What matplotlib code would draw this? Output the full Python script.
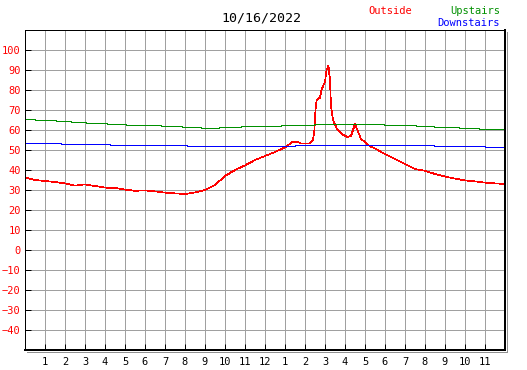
import matplotlib
matplotlib.use("Agg")
import matplotlib.pyplot as plt
from matplotlib.lines import Line2D

# hours since midnight and readings (deg F)
out_hours = [0, 0.5, 1.0, 1.5, 2.0, 2.5, 3.0, 3.5, 4.0, 4.5, 5.0, 5.5, 6.0, 6.5, 7.0, 7.5,
             8.0, 8.5, 9.0, 9.5, 10.0, 10.5, 11.0, 11.5, 12.0, 12.5, 13.0, 13.4, 13.65, 13.8,
             14.25, 14.4, 14.47, 14.52, 14.58, 14.75, 14.83, 15.0, 15.08, 15.17, 15.25, 15.3,
             15.4, 15.6, 15.85, 16.1, 16.3, 16.4, 16.5, 16.6, 16.8, 17.0, 17.25, 17.5, 17.9,
             18.5, 19.0, 19.5, 20.0, 20.5, 21.0, 21.5, 22.0, 22.5, 23.0, 23.5, 24.0]
outside = [36.2, 35.0, 34.5, 34.0, 33.3, 32.2, 32.8, 32.0, 31.2, 31.0, 30.2, 29.6, 29.8, 29.3,
           28.7, 28.3, 28.0, 28.8, 30.0, 32.5, 37.0, 40.0, 42.3, 45.0, 47.0, 49.0, 51.3, 54.2,
           54.0, 53.3, 53.3, 55.0, 60.0, 69.5, 75.0, 76.2, 80.3, 84.2, 90.0, 92.2, 85.0, 72.0,
           65.0, 60.5, 58.0, 56.5, 57.0, 60.0, 63.0, 60.5, 55.5, 54.0, 51.8, 50.8, 48.5, 45.5,
           43.0, 40.5, 39.6, 38.0, 36.7, 35.7, 34.8, 34.3, 33.7, 33.3, 33.0]

up_hours = [0, 0.5, 1.55, 2.3, 3.05, 4.1, 5.05, 6.8, 7.85, 8.8, 9.7, 10.8, 12.8, 14.45,
            17.95, 19.55, 20.45, 21.7, 22.7, 24]
upstairs = [65.3, 64.8, 64.3, 63.8, 63.3, 62.8, 62.3, 61.8, 61.3, 60.8, 61.3, 61.8, 62.3,
            62.8, 62.3, 61.8, 61.3, 60.8, 60.3, 60.3]

down_hours = [0, 1.8, 4.25, 8.1, 13.5, 20.45, 23.0, 24]
downstairs = [53.3, 52.8, 52.3, 51.8, 52.3, 51.8, 51.3, 51.3]

x_ticks = list(range(1, 24))
x_labels = ['1', '2', '3', '4', '5', '6', '7', '8', '9', '10', '11', '12',
            '1', '2', '3', '4', '5', '6', '7', '8', '9', '10', '11']
y_ticks = list(range(-40, 101, 10))

W, H = 527, 370
px = 0.72  # one pixel in points at 100 dpi
fig = plt.figure(figsize=(W / 100, H / 100), dpi=100)
ax = fig.add_axes([25 / W, (H - 350) / H, 480 / W, 320 / H])

ax.plot(out_hours, outside, color='red', lw=0.5, antialiased=False)
ax.plot(up_hours, upstairs, color='#009000', lw=px, drawstyle='steps-post', antialiased=False)
ax.plot(down_hours, downstairs, color='blue', lw=px, drawstyle='steps-post', antialiased=False)

ax.set_xlim(0, 24)
ax.set_ylim(-50, 110)
ax.set_xticks(x_ticks)
ax.set_xticklabels(x_labels)
ax.set_yticks(y_ticks)
ax.grid(True, color='#a0a0a0', lw=px)
ax.set_axisbelow(True)

mono = 'DejaVu Sans Mono'
ax.tick_params(axis='both', direction='in', length=4, width=px, color='black',
               labelsize=7.5, labelfontfamily=mono)
ax.tick_params(axis='x', pad=5)
ax.tick_params(axis='y', pad=3, labelcolor='red')

for s in ['top', 'left']:
    ax.spines[s].set_linewidth(px)
for s in ['bottom', 'right']:
    ax.spines[s].set_linewidth(2 * px)

# drop shadow on bottom and right
fig.add_artist(Line2D([27 / W, 507 / W], [(H - 352) / H] * 2, color='#909090', lw=px))
fig.add_artist(Line2D([507 / W] * 2, [(H - 352) / H, (H - 32) / H], color='#909090', lw=px))

fig.text(261 / W, 1 - 18 / H, '10/16/2022', ha='center', va='center', fontsize=9.5,
         family=mono, color='black')
fig.text(390 / W, 1 - 11 / H, 'Outside', ha='center', va='center', fontsize=7.5,
         family=mono, color='red')
fig.text(500 / W, 1 - 11 / H, 'Upstairs', ha='right', va='center', fontsize=7.5,
         family=mono, color='#009000')
fig.text(500 / W, 1 - 23 / H, 'Downstairs', ha='right', va='center', fontsize=7.5,
         family=mono, color='blue')

fig.savefig('out.png', dpi=100, facecolor='white')
